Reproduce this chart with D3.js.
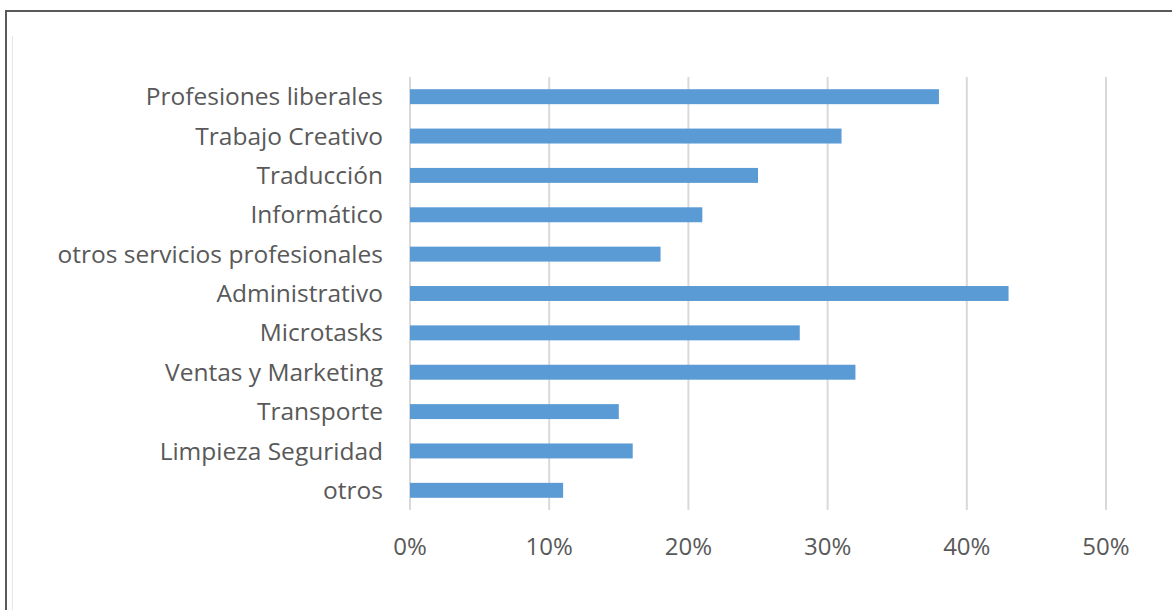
<!DOCTYPE html>
<html>
<head>
<meta charset="utf-8">
<script src="https://cdn.jsdelivr.net/npm/d3@7"></script>
<style>
  body { margin: 0; background: #fff; }
  svg { display: block; }
</style>
</head>
<body>
<div id="chart"></div>
<script>
// categories, top to bottom
const categories = [
  "Profesiones liberales", "Trabajo Creativo", "Traducción", "Informático",
  "otros servicios profesionales", "Administrativo", "Microtasks",
  "Ventas y Marketing", "Transporte", "Limpieza Seguridad", "otros"
];
const values = [0.38, 0.31, 0.25, 0.21, 0.18, 0.43, 0.28, 0.32, 0.15, 0.16, 0.11];
const ticks = [0, 0.1, 0.2, 0.3, 0.4, 0.5];

const width = 1172, height = 610;
const svg = d3.select("#chart").append("svg")
  .attr("width", width).attr("height", height);

// frame: top and left edges
svg.append("line").attr("x1", 5).attr("x2", width).attr("y1", 11).attr("y2", 11)
  .attr("stroke", "#595959").attr("stroke-width", 2);
svg.append("line").attr("x1", 6).attr("x2", 6).attr("y1", 10).attr("y2", height)
  .attr("stroke", "#595959").attr("stroke-width", 2);
svg.append("line").attr("x1", 12.5).attr("x2", 12.5).attr("y1", 36).attr("y2", height)
  .attr("stroke", "#e6e6e6").attr("stroke-width", 1);

const x = d3.scaleLinear().domain([0, 0.5]).range([410, 1106]);
const y = d3.scaleBand().domain(categories).range([77, 510]).paddingInner(0.62).paddingOuter(0.31);

// gridlines
svg.append("g").selectAll("line").data(ticks).enter().append("line")
  .attr("x1", d => x(d)).attr("x2", d => x(d))
  .attr("y1", 77).attr("y2", 510)
  .attr("stroke", "#d9d9d9").attr("stroke-width", 2);

// bars
svg.append("g").selectAll("rect").data(values).enter().append("rect")
  .attr("x", x(0))
  .attr("y", (d, i) => y(categories[i]))
  .attr("width", d => x(d) - x(0))
  .attr("height", y.bandwidth())
  .attr("fill", "#5b9bd5");

// category labels
svg.append("g").selectAll("text").data(categories).enter().append("text")
  .attr("x", 383)
  .attr("y", d => y(d) + y.bandwidth() / 2)
  .attr("dy", "0.35em")
  .attr("text-anchor", "end")
  .attr("font-family", "'Open Sans', sans-serif")
  .attr("font-size", 24.5)
  .attr("fill", "#595959")
  .text(d => d);

// x tick labels
svg.append("g").selectAll("text").data(ticks).enter().append("text")
  .attr("x", d => x(d))
  .attr("y", 547)
  .attr("dy", "0.35em")
  .attr("text-anchor", "middle")
  .attr("font-family", "'Open Sans', sans-serif")
  .attr("font-size", 24)
  .attr("fill", "#595959")
  .text(d => d3.format(".0%")(d));
</script>
</body>
</html>
